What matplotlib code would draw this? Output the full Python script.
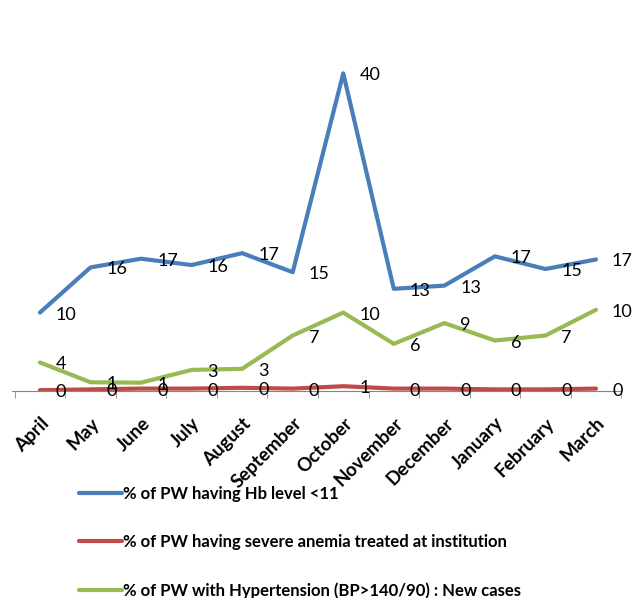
import matplotlib
matplotlib.use("Agg")
import matplotlib.pyplot as plt
from matplotlib.ticker import FixedLocator

plt.rcParams['font.family'] = ['Lato', 'DejaVu Sans']

months = ['April', 'May', 'June', 'July', 'August', 'September', 'October',
          'November', 'December', 'January', 'February', 'March']

# monthly percentages (labels show rounded values)
hb_low = [9.9, 15.6, 16.7, 15.9, 17.4, 15.0, 40.1, 12.9, 13.3, 17.0, 15.4, 16.6]
severe_anemia = [0.1, 0.2, 0.3, 0.3, 0.4, 0.3, 0.6, 0.3, 0.3, 0.2, 0.2, 0.3]
hypertension = [3.6, 1.1, 1.05, 2.66, 2.8, 7.0, 9.9, 5.95, 8.57, 6.37, 7.0, 10.25]

series = [
    ('% of PW having Hb level <11', hb_low, '#4A7EBB'),
    ('% of PW having severe anemia treated at institution', severe_anemia, '#BE4B48'),
    ('% of PW with Hypertension (BP>140/90) : New cases', hypertension, '#98B954'),
]

fig = plt.figure(figsize=(6.35, 5.98), dpi=100)
ax = fig.add_axes([0.0231, 0.3462, 0.9553, 0.596])

x = list(range(len(months)))
for name, vals, color in series:
    ax.plot(x, vals, color=color, lw=3, label=name, solid_capstyle='round',
            solid_joinstyle='round')
    for xi, v in zip(x, vals):
        ax.annotate('{:.0f}'.format(v), (xi, v), xytext=(16, -2),
                    textcoords='offset pixels', ha='left', va='center',
                    fontsize=13, color='black')

ax.set_xlim(-0.5, 11.5)
ax.set_ylim(0, 45)
ax.set_yticks([])
for side in ['top', 'right', 'left']:
    ax.spines[side].set_visible(False)
ax.spines['bottom'].set_color('#868686')
ax.spines['bottom'].set_bounds(-0.55, 11.5)

ax.set_xticks(x)
ax.set_xticklabels(months, rotation=45, ha='right', va='top',
                   rotation_mode='anchor', fontsize=13.5, fontweight='bold')
ax.tick_params(axis='x', which='major', length=0, pad=17)
ax.xaxis.set_minor_locator(FixedLocator([i - 0.5 for i in range(13)]))
ax.tick_params(axis='x', which='minor', length=5, color='#868686')

fig.legend(loc='upper left', bbox_to_anchor=(0.111, 0.202), frameon=False,
           prop={'weight': 'bold', 'size': 12}, handlelength=2.6,
           handletextpad=0.05, labelspacing=1.95, borderpad=0)

fig.savefig('out.png', dpi=100)
